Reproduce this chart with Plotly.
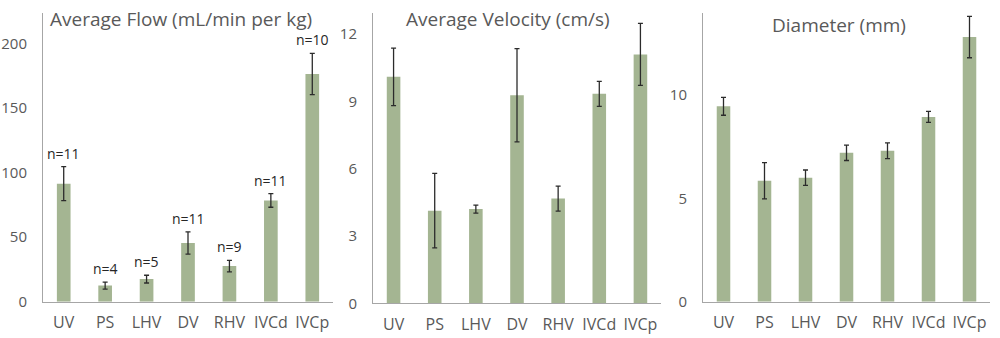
import plotly.graph_objects as go

categories = ["UV", "PS", "LHV", "DV", "RHV", "IVCd", "IVCp"]

flow_mean = [91.5, 12.5, 17.5, 45.5, 27.6, 78.5, 176.5]
flow_err = [13.2, 2.7, 3.0, 8.6, 4.5, 5.3, 16.0]
flow_n = ["n=11", "n=4", "n=5", "n=11", "n=9", "n=11", "n=10"]

vel_mean = [10.1, 4.13, 4.2, 9.28, 4.67, 9.34, 11.1]
vel_err = [1.28, 1.66, 0.18, 2.08, 0.56, 0.56, 1.38]

diam_mean = [9.45, 5.85, 6.0, 7.2, 7.3, 8.94, 12.8]
diam_err = [0.43, 0.88, 0.37, 0.37, 0.38, 0.27, 1.0]

titles = ["Average Flow (mL/min per kg)", "Average Velocity (cm/s)", "Diameter (mm)"]

BAR = "#A4B592"
AXIS = "#A6A6A6"
TXT = "#595959"
FONT = "Open Sans"

fig = go.Figure()

panels = [
    (flow_mean, flow_err, "x", "y"),
    (vel_mean, vel_err, "x2", "y2"),
    (diam_mean, diam_err, "x3", "y3"),
]
for mean, err, xa, ya in panels:
    fig.add_trace(go.Bar(
        x=categories, y=mean, xaxis=xa, yaxis=ya,
        marker=dict(color=BAR, line=dict(width=0)),
        error_y=dict(type="data", array=err, visible=True,
                     color="#2b2b2b", thickness=1.3, width=2.5),
        showlegend=False, hoverinfo="x+y",
    ))

H = 338.0
def py(pix):
    return 1 - pix / H

xdoms = [[43 / 1000, 333 / 1000], [373 / 1000, 661 / 1000], [703 / 1000, 990 / 1000]]
ydoms = [[py(301.7), py(12.7)], [py(303.3), py(12.7)], [py(301.7), py(12.7)]]
yranges = [[0, 224], [0, 12.96], [0, 13.98]]
ydticks = [50, 3, 5]

layout = dict(
    width=1000, height=338,
    margin=dict(l=0, r=0, t=0, b=0),
    paper_bgcolor="white", plot_bgcolor="white",
    bargap=0.67,
    font=dict(family=FONT, color=TXT, size=15),
)
for i in range(3):
    sx = "" if i == 0 else str(i + 1)
    layout["xaxis" + sx] = dict(
        domain=xdoms[i], anchor="y" + sx, showline=True, linecolor=AXIS, linewidth=1,
        showgrid=False, ticks="", tickfont=dict(family=FONT, size=16, color=TXT),
        ticklabelstandoff=6, fixedrange=True, automargin=False,
    )
    layout["yaxis" + sx] = dict(
        domain=ydoms[i], anchor="x" + sx, range=yranges[i], dtick=ydticks[i],
        showline=True, linecolor=AXIS, linewidth=1, showgrid=False, zeroline=False,
        ticks="", tickfont=dict(family=FONT, size=15, color=TXT), ticklabelstandoff=12,
        fixedrange=True, automargin=False,
    )
fig.update_layout(**layout)

# n labels on first panel
for c, m, e, n in zip(categories, flow_mean, flow_err, flow_n):
    fig.add_annotation(x=c, y=m + e, xref="x", yref="y", text=n, showarrow=False,
                       yanchor="bottom", yshift=2,
                       font=dict(family=FONT, size=14, color="#262626"))

# titles
fig.add_annotation(x=48 / 1000, y=py(19), xref="paper", yref="paper", text=titles[0],
                   showarrow=False, xanchor="left", yanchor="middle",
                   font=dict(family=FONT, size=19, color=TXT))
fig.add_annotation(x=508 / 1000, y=py(19), xref="paper", yref="paper", text=titles[1],
                   showarrow=False, xanchor="center", yanchor="middle",
                   font=dict(family=FONT, size=19, color=TXT))
fig.add_annotation(x=839 / 1000, y=py(25), xref="paper", yref="paper", text=titles[2],
                   showarrow=False, xanchor="center", yanchor="middle",
                   font=dict(family=FONT, size=19, color=TXT))

fig.write_html("out.html", post_script="document.body.style.margin='0px';",
               config={"displayModeBar": False})
